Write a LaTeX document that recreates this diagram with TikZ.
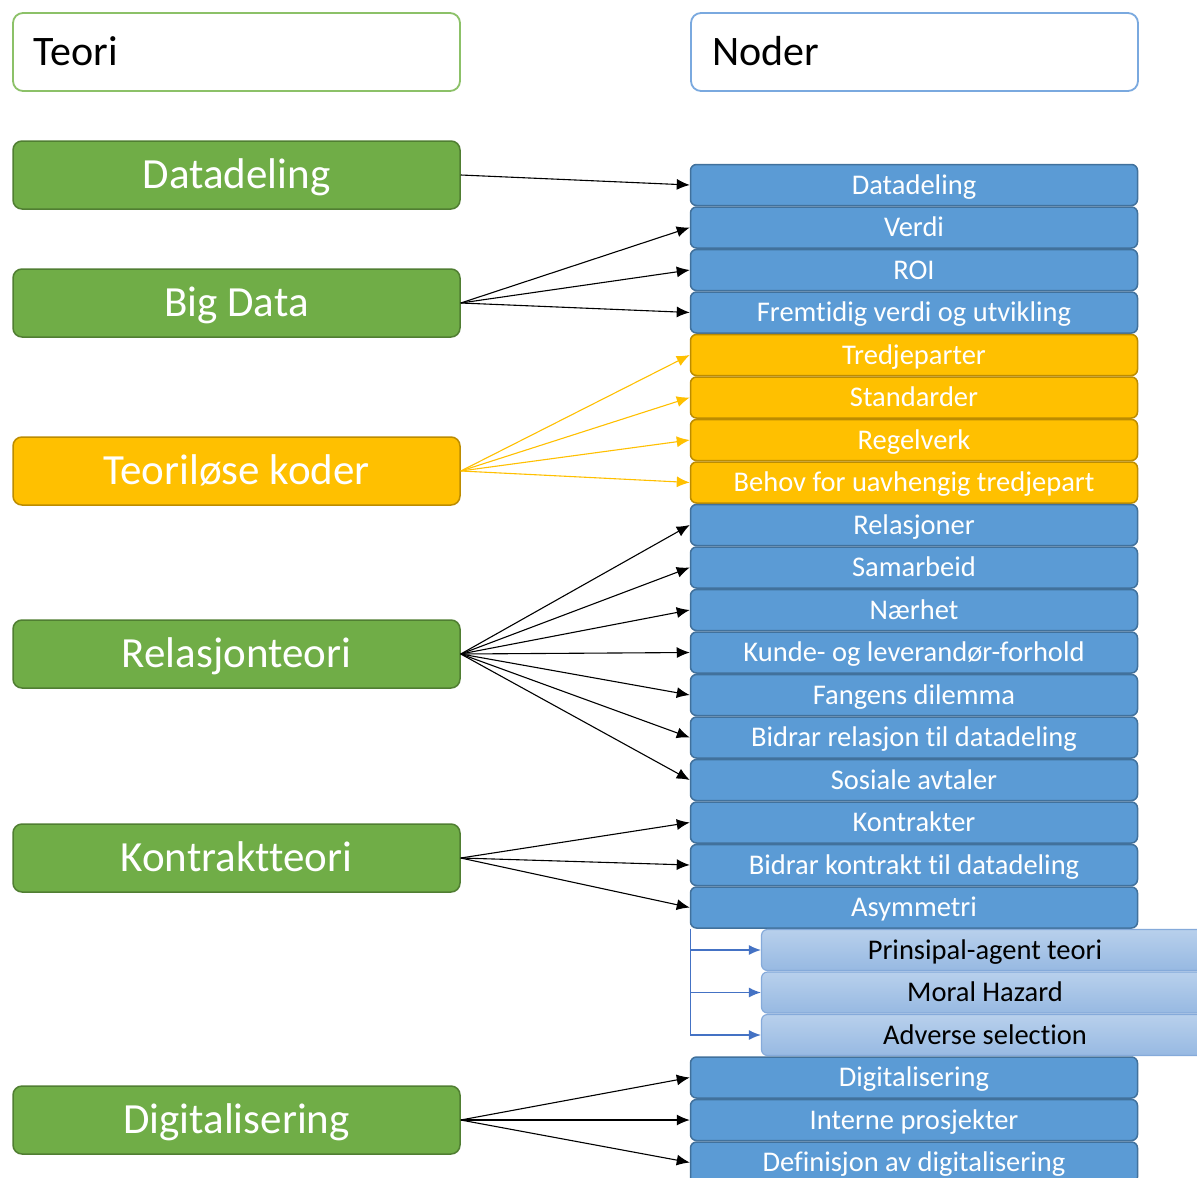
\documentclass[tikz,border=0pt]{standalone}
\usepackage{fontspec}
\setmainfont{Carlito}[Ligatures=NoCommon]
\usetikzlibrary{arrows.meta}
\definecolor{gfill}{HTML}{70AD47}
\definecolor{gdraw}{HTML}{507E32}
\definecolor{yfill}{HTML}{FFC000}
\definecolor{ydraw}{HTML}{BC8C00}
\definecolor{bfill}{HTML}{5B9BD5}
\definecolor{bdraw}{HTML}{41719C}
\definecolor{ltop}{HTML}{B8D0EC}
\definecolor{lbot}{HTML}{97B9E2}
\definecolor{ldraw}{HTML}{85AADA}
\definecolor{subarrow}{HTML}{4472C4}
\definecolor{hgreen}{HTML}{8CC168}
\definecolor{hblue}{HTML}{7AA9DF}
\begin{document}
\begin{tikzpicture}[x=1pt,y=-1pt,
 header/.style={text height=27pt, text depth=0pt, draw, line width=1.8pt, rounded corners=10pt, fill=white, minimum width=447pt, minimum height=78pt, text width=405pt, align=left, font=\fontsize{42}{50}\selectfont, inner sep=0pt},
 theory/.style={text height=27.7pt, text depth=0pt, draw=gdraw, fill=gfill, line width=1.5pt, rounded corners=9pt, minimum width=447pt, minimum height=68pt, text=white, font=\fontsize{43}{50}\selectfont, inner sep=0pt},
 ytheory/.style={theory, draw=ydraw, fill=yfill},
 bnode/.style={text height=18.4pt, text depth=0pt, draw=bdraw, fill=bfill, line width=1.5pt, rounded corners=6pt, minimum width=447pt, minimum height=41pt, text=white, font=\fontsize{28.5}{32}\selectfont, inner sep=0pt},
 ynode/.style={bnode, draw=ydraw, fill=yfill},
 lnode/.style={text height=18.4pt, text depth=0pt, draw=ldraw, top color=ltop, bottom color=lbot, line width=1.2pt, rounded corners=6pt, minimum width=447pt, minimum height=41pt, text=black, font=\fontsize{28.5}{32}\selectfont, inner sep=0pt},
 arr/.style={line width=1.1pt, -{Latex[length=13pt,width=11pt]}},
 yarr/.style={arr, draw=yfill},
 sarr/.style={draw=subarrow, line width=1.3pt, -{Latex[length=12pt,width=10pt]}}
]
\clip (0,0) rectangle (1197,1178);
\fill[white] (0,0) rectangle (1197,1178);

% headers
\node[header, draw=hgreen] (hteori) at (236.5,52) {Teori};
\node[header, draw=hblue] (hnoder) at (914.5,52) {Noder};

% theory boxes
\node[theory] (tdata) at (236.5,175) {Datadeling};
\node[theory] (tbig) at (236.5,303) {Big Data};
\node[ytheory] (tkod) at (236.5,471) {Teoriløse koder};
\node[theory] (trel) at (236.5,654) {Relasjonteori};
\node[theory] (tkon) at (236.5,858) {Kontraktteori};
\node[theory] (tdig) at (236.5,1120) {Digitalisering};

% node list
\node[bnode] (n0) at (914,185) {Datadeling};
\node[bnode] (n1) at (914,227.5) {Verdi};
\node[bnode] (n2) at (914,270) {ROI};
\node[bnode] (n3) at (914,312.5) {Fremtidig verdi og utvikling};
\node[ynode] (n4) at (914,355) {Tredjeparter};
\node[ynode] (n5) at (914,397.5) {Standarder};
\node[ynode] (n6) at (914,440) {Regelverk};
\node[ynode] (n7) at (914,482.5) {Behov for uavhengig tredjepart};
\node[bnode] (n8) at (914,525) {Relasjoner};
\node[bnode] (n9) at (914,567.5) {Samarbeid};
\node[bnode] (n10) at (914,610) {Nærhet};
\node[bnode] (n11) at (914,652.5) {Kunde- og leverandør-forhold};
\node[bnode] (n12) at (914,695) {Fangens dilemma};
\node[bnode] (n13) at (914,737.5) {Bidrar relasjon til datadeling};
\node[bnode] (n14) at (914,780) {Sosiale avtaler};
\node[bnode] (n15) at (914,822.5) {Kontrakter};
\node[bnode] (n16) at (914,865) {Bidrar kontrakt til datadeling};
\node[bnode] (n17) at (914,907.5) {Asymmetri};
\node[lnode] (n18) at (985,950) {Prinsipal-agent teori};
\node[lnode] (n19) at (985,992.5) {Moral Hazard};
\node[lnode] (n20) at (985,1035) {Adverse selection};
\node[bnode] (n21) at (914,1077.5) {Digitalisering};
\node[bnode] (n22) at (914,1120) {Interne prosjekter};
\node[bnode] (n23) at (914,1162.5) {Definisjon av digitalisering};

% connectors
\draw[arr] (tdata.east) -- (n0.west);
\foreach \i in {1,2,3} \draw[arr] (tbig.east) -- (n\i.west);
\foreach \i in {4,5,6,7} \draw[yarr] (tkod.east) -- (n\i.west);
\foreach \i in {8,...,14} \draw[arr] (trel.east) -- (n\i.west);
\foreach \i in {15,16,17} \draw[arr] (tkon.east) -- (n\i.west);
\foreach \i in {21,22,23} \draw[arr] (tdig.east) -- (n\i.west);
\coordinate (asub) at ([xshift=0.5pt]n17.south west);
\foreach \i in {18,19,20} \draw[sarr] (asub) |- (n\i.west);
\end{tikzpicture}
\end{document}
